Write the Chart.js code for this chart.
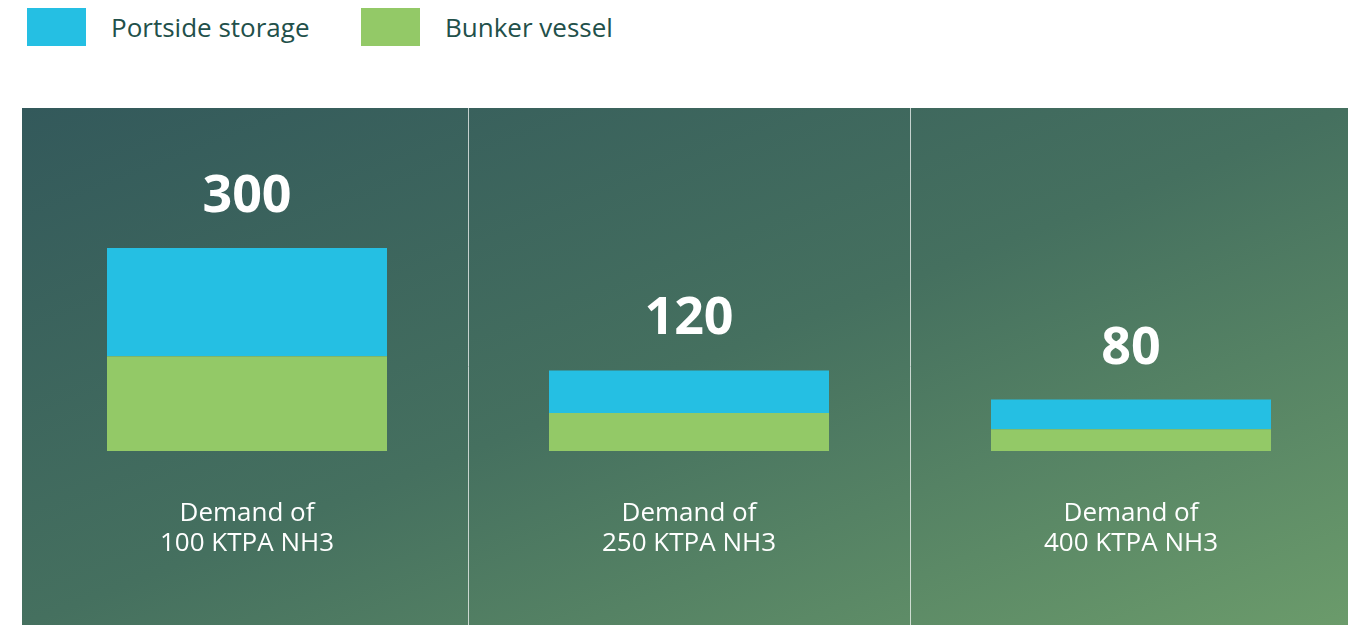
<!DOCTYPE html>
<html>
<head>
<meta charset="utf-8">
<title>Storage requirement by demand</title>
<script src="https://cdn.jsdelivr.net/npm/chart.js@4.4.1/dist/chart.umd.min.js"></script>
<style>
    body {
        margin: 0;
        background: #fff;
        width: 1354px;
        height: 625px;
        position: relative;
        overflow: hidden;
        font-family: "Open Sans", sans-serif;
    }
    #legend { position: absolute; left: 27px; top: 8px; display: flex; }
    .item { display: flex; align-items: center; width: 334px; }
    .swatch { width: 59px; height: 38px; margin-right: 25px; }
    .item span { font-size: 26px; color: #22504a; }
    #panel {
        position: absolute; left: 22px; top: 108px; width: 1326px; height: 517px;
        background: linear-gradient(to bottom right, #33595b 0%, #45705f 50%, #6b9b6b 100%);
    }
    #wrap { position: absolute; left: 26px; top: 108px; width: 1326px; height: 517px; }
</style>
</head>
<body>
<div id="legend"></div>
<div id="panel"></div>
<div id="wrap"><canvas id="chart"></canvas></div>

<script>
// values
const categories = [
    ["Demand of", "100 KTPA NH3"],
    ["Demand of", "250 KTPA NH3"],
    ["Demand of", "400 KTPA NH3"]
];
const portside = [160, 63, 44];
const bunker = [140, 56, 32];
const totals = [300, 120, 80];

const BLUE = "#25bfe3";
const GREEN = "#93c967";

// white lines between the columns, full panel height
const dividers = {
    id: "dividers",
    beforeDatasetsDraw(chart) {
        const { ctx, scales: { x } } = chart;
        ctx.save();
        ctx.strokeStyle = "rgba(255,255,255,0.7)";
        ctx.lineWidth = 1;
        for (let i = 1; i < categories.length; i++) {
            const px = Math.round((x.getPixelForValue(i - 1) + x.getPixelForValue(i)) / 2) + 0.5;
            ctx.beginPath();
            ctx.moveTo(px, 0);
            ctx.lineTo(px, chart.height);
            ctx.stroke();
        }
        ctx.restore();
    }
};

// big total above each stack
const totalLabels = {
    id: "totalLabels",
    afterDatasetsDraw(chart) {
        const { ctx } = chart;
        const top = chart.getDatasetMeta(chart.data.datasets.length - 1);
        ctx.save();
        ctx.fillStyle = "#fff";
        ctx.font = "bold 52px 'Open Sans', sans-serif";
        ctx.textAlign = "center";
        ctx.textBaseline = "alphabetic";
        top.data.forEach((bar, i) => {
            ctx.fillText(String(totals[i]), bar.x, bar.y - 36);
        });
        ctx.restore();
    }
};

const chart = new Chart(document.getElementById("chart"), {
    type: "bar",
    data: {
        labels: categories,
        datasets: [
            { label: "Bunker vessel", data: bunker, backgroundColor: GREEN },
            { label: "Portside storage", data: portside, backgroundColor: BLUE }
        ]
    },
    options: {
        responsive: true,
        maintainAspectRatio: false,
        animation: false,
        datasets: {
            bar: { categoryPercentage: 1, barPercentage: 0.6335 }
        },
        plugins: {
            legend: { display: false },
            tooltip: { enabled: false }
        },
        scales: {
            x: {
                stacked: true,
                grid: { display: false },
                border: { display: false },
                ticks: {
                    color: "#fff",
                    padding: 39,
                    font: { family: "'Open Sans', sans-serif", size: 26, lineHeight: 1.17 }
                },
                afterFit(scale) { scale.height = 174; }
            },
            y: {
                stacked: true,
                display: false,
                min: 0,
                max: 507
            }
        }
    },
    plugins: [dividers, totalLabels]
});

// html legend, Portside first like the original
const legend = document.getElementById("legend");
chart.data.datasets.slice().reverse().forEach((ds) => {
    const item = document.createElement("div");
    item.className = "item";
    const sw = document.createElement("div");
    sw.className = "swatch";
    sw.style.background = ds.backgroundColor;
    const txt = document.createElement("span");
    txt.textContent = ds.label;
    item.appendChild(sw);
    item.appendChild(txt);
    legend.appendChild(item);
});
</script>
</body>
</html>
